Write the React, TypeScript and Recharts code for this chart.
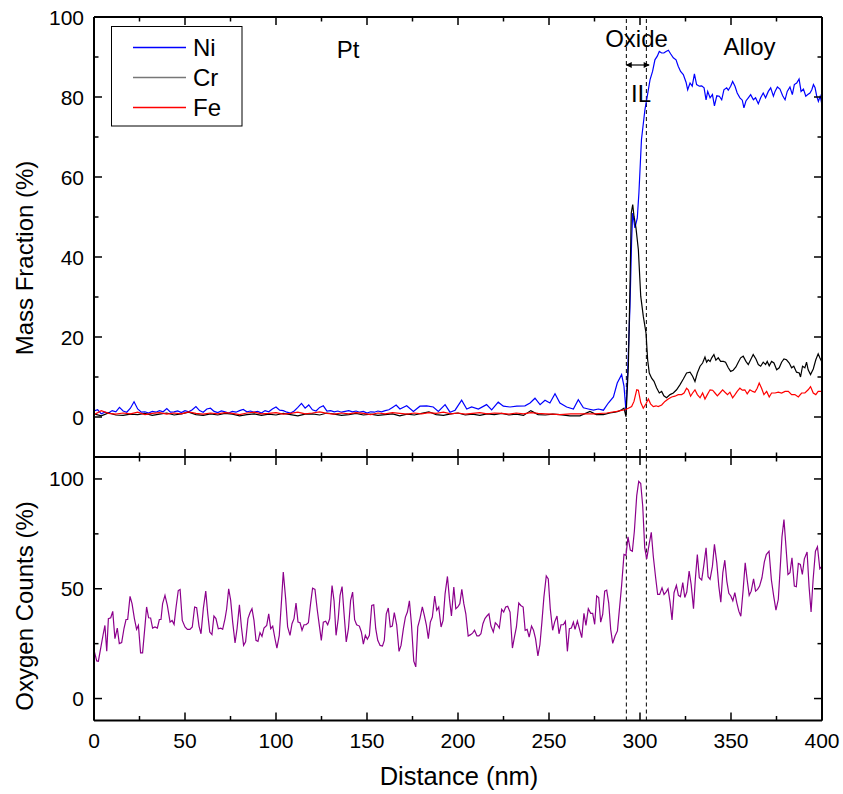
import React from 'react';
import { LineChart, Line, XAxis, YAxis, ReferenceLine } from 'recharts';

// ---------- ticks & annotations ----------
const DISTANCE_TICKS = [0, 25, 50, 75, 100, 125, 150, 175, 200, 225, 250, 275, 300, 325, 350, 375, 400];
const MASS_TICKS = [0, 10, 20, 30, 40, 50, 60, 70, 80, 90, 100];
const OXYGEN_TICKS = [0, 25, 50, 75, 100];
const BOUNDARIES = [292.5, 303.5];
const IL_ARROW: [number, number, number] = [292.5, 305, 88]; // from, to, at mass fraction
const SERIES_NAMES = ['Ni', 'Cr', 'Fe'];
const SERIES_COLORS = ['#0000ff', '#000000', '#ff0000'];
const LEGEND_COLORS = ['#0000ff', '#777777', '#ff0000'];
const OXYGEN_COLOR = '#8c008c';

// ---------- data: [distance (nm), value (%)] ----------
const NI_PROFILE: [number, number][] = [
  [0,1.5],[2,1.8],[4,0.8],[6,1.2],[8,1.0],[10,1.6],[12,1.3],[14,2.4],[16,1.5],[18,1.2],[20,2.2],[22,3.8],[24,2.0],[26,1.2],[28,1.3],[30,1.0],[32,1.4],[34,1.2],[36,1.6],[38,1.3],[40,2.1],[42,1.2],[44,1.3],[46,1.5],[48,1.1],[50,1.6],[52,1.3],[54,1.8],[56,2.6],[58,1.6],[60,1.2],[62,2.0],[64,2.2],[66,1.4],[68,1.1],[70,1.5],[72,1.3],[74,1.0],[76,1.4],[78,1.2],[80,1.6],[82,1.9],[84,1.3],[86,1.5],[88,1.2],[90,1.4],[92,1.0],[94,1.6],[96,1.3],[98,2.0],[100,2.5],[102,1.7],[104,1.6],[106,1.2],[108,1.0],[110,1.5],[112,2.4],[114,3.4],[116,2.2],[118,3.0],[120,1.8],[122,1.5],[124,2.4],[126,2.8],[128,1.5],[130,1.6],[132,1.3],[134,1.5],[136,1.2],[138,1.4],[140,1.6],[142,1.3],[144,1.5],[146,1.2],[148,1.4],[150,1.0],[152,1.3],[154,1.2],[156,1.5],[158,1.3],[160,1.6],[162,1.8],[164,2.4],[166,3.0],
  [168.1,2.0],[171.8,2.8],[175.5,1.4],[179.1,2.7],[182.8,2.8],[186.4,2.5],[189.2,1.4],[192.9,3.1],[195.6,1.2],[198.4,1.7],[202.0,4.2],[204.8,2.0],[207.5,2.5],[211.2,2.0],[215.7,3.1],[218.5,1.8],[222.1,3.7],[224.9,2.7],[228.6,2.5],[232.3,2.7],[236.8,2.8],[239.6,3.5],[242.3,4.7],[245.1,3.1],[247.8,4.2],[250.5,3.5],[253.3,5.8],[256.0,3.5],[259.7,2.5],[263.4,2.0],[266.1,4.3],[268.9,2.3],[271.6,2.0],[274.4,1.7],[277.1,2.0],[279.9,1.7],[282.6,3.5],[285.4,5.0],[287.5,8.5],[289.9,10.6],[291.2,7.7],[292.3,1.5],
  [293.2,11],[294.5,27.7],[295.4,44.3],[296.0,51],[297.2,47.3],[298.5,49.7],[299.4,56],[300.8,69.3],[302.7,76.8],[304.0,80.2],[305.5,84.3],[306.9,86.4],[308.2,89.3],[309.5,90.2],[310.6,91.4],[311.9,91],[313.1,91],[314.3,91.4],[315.6,91.7],[316.8,90.8],[318.3,89.8],[319.8,89.3],[321.0,87.7],[322.3,86.4],[323.8,85.6],[325.3,83.7],[326.2,81.8],[327.5,83.5],[328.7,82.7],[329.9,85.8],[331.1,83.1],[332.6,82.7],[333.9,82.8],[335.2,82.3],[336.3,79.3],[337.2,81.4],[338.5,79.8],[339.8,80.6],[340.9,77.8],[342.2,80.3],[343.6,80.2],[344.9,79.3],[346.1,81.8],[347.6,82.3],[348.5,81.7],[349.8,82.7],[350.9,83.9],[352.2,82.7],[353.4,81],[354.9,79.8],[356.2,79.2],[357.1,77.3],[358.2,79],[359.5,79.8],[360.8,80.6],[362.3,79.3],[363.5,79.8],[365.0,78.3],[366.3,79.8],[367.7,81],[369.0,79.8],[370.5,81.4],[371.8,82.3],[373.3,80.2],[374.2,81.4],[375.5,82.5],[376.9,82],[378.4,80.3],[379.7,79.3],[380.9,81.4],[382.4,82.5],[383.7,80.6],[384.8,83.1],[386.1,83.5],[387.4,84.5],[388.5,81.4],[389.8,82],[391.1,80.2],[392.2,80.6],[393.4,81],[394.4,81.8],[395.3,83.1],[396.2,82.3],[397.1,80.2],[398.0,78.9],[399.0,80.2],[400,78]
];

const CR_PROFILE: [number, number][] = [
  [0,0.8],[4,0.3],[8,1.0],[12,0.5],[16,0.4],[20,0.7],[24,0.6],[28,0.9],[32,0.4],[36,0.7],[40,1.0],[44,0.5],[48,0.8],[52,1.2],[56,0.6],[60,0.4],[64,0.8],[68,0.5],[72,0.9],[76,0.7],[80,0.3],[84,0.6],[88,0.8],[92,0.4],[96,0.7],[100,0.5],[104,0.9],[108,0.6],[112,0.3],[116,0.7],[120,0.8],[124,0.5],[128,1.0],[132,0.7],[136,0.4],[140,0.6],[144,0.9],[148,0.5],[152,0.7],[156,0.4],[160,0.6],[164,0.8],[168,0.3],[172,0.7],[176,0.5],[180,0.9],[184,1.3],[188,0.6],[192,0.4],[196,0.8],[200,1.0],[204,0.5],[208,0.7],[212,0.4],[216,0.8],[220,0.6],[224,0.9],[228,0.5],[232,0.7],[236,0.4],[240,1.6],[244,0.6],[248,0.5],[252,0.7],
  [256,0.6],[261.5,0.3],[267,0.3],[272.5,1.4],[276,0.6],[279.9,0.6],[283.5,1.0],[286.3,1.2],[288.1,1.4],[289.9,1.8],[291.2,2.2],[292.3,0.1],[293.6,12.7],[294.5,32.6],[295.2,51],[296.0,53.1],[296.7,50.2],[297.8,47.2],[299.1,41.8],[300.4,30.2],[301.8,25.2],[303.3,21],[304.2,14.3],[305.1,11],[306.4,9.7],[307.7,8.9],[309.1,7.3],[310.6,6],[311.9,6.4],[313.1,5.3],[314.6,4.8],[316.5,5.6],[318.3,6],[320.1,6.8],[322.0,8.1],[323.8,9.5],[325.6,11],[327.5,11.2],[328.9,10.2],[330.2,8.9],[331.5,11],[333.0,12.7],[334.4,13.5],[335.7,15],[336.6,13.7],[337.5,14.3],[338.5,13.9],[339.4,14.8],[340.6,15.6],[341.7,14.2],[343.0,14.8],[344.3,13.9],[345.8,13.9],[347.0,13.7],[348.5,12.3],[349.8,11.4],[351.2,11.7],[352.7,12.5],[354.0,13.7],[355.3,14.8],[356.7,15.2],[358.2,13.9],[359.5,13.1],[360.8,14.3],[362.2,15.6],[363.7,14.5],[365.0,13.1],[366.3,12.7],[367.7,13.7],[369.0,13.1],[369.9,13.9],[371.0,12.8],[372.3,13.9],[373.6,13.5],[375.1,11.8],[376.5,12.3],[377.8,13.7],[379.1,14.5],[380.5,14.3],[382.0,13.5],[383.3,12.3],[384.5,12.7],[386.0,11.2],[387.5,11],[388.2,10],[389.3,12.7],[390.6,12.3],[391.5,13.7],[392.4,11.8],[393.7,10.6],[395.2,12],[396.6,14.3],[397.9,15.8],[398.8,14.8],[400,13.7]
];

const FE_PROFILE: [number, number][] = [
  [0,0.6],[4,1.6],[8,0.9],[12,0.7],[16,1.0],[20,0.8],[24,1.2],[28,0.6],[32,0.9],[36,1.1],[40,0.7],[44,1.0],[48,0.8],[52,1.3],[56,0.9],[60,0.7],[64,1.0],[68,0.8],[72,1.1],[76,0.9],[80,0.6],[84,1.0],[88,1.2],[92,0.8],[96,0.9],[100,1.1],[104,0.7],[108,0.9],[112,1.2],[116,0.8],[120,1.0],[124,1.3],[128,0.9],[132,0.7],[136,1.0],[140,0.8],[144,1.1],[148,0.9],[152,0.6],[156,1.0],[160,0.8],[164,1.1],[168,0.9],[172,0.7],[176,1.0],[180,0.8],[184,1.1],[188,0.9],[192,1.2],[196,0.8],[200,1.0],[204,0.7],[208,0.9],[212,1.1],[216,0.8],[220,1.0],[224,0.9],[228,0.7],[232,1.0],[236,0.8],[240,1.1],[244,0.9],[248,0.8],[252,0.7],
  [256,0.6],[262,0.8],[268,0.8],[275,0.8],[281.7,1.0],[287.2,1.4],[291.8,1.8],[293.6,2.2],[295.4,2.6],[296.7,3.9],[298.2,6.8],[299.1,6.7],[300.4,3.6],[301.8,2.2],[303.3,3.3],[304.6,4.5],[305.8,3.3],[307.3,2.6],[308.8,2.8],[310.0,2.6],[311.9,3],[313.7,3.9],[315.5,4.5],[317.4,5],[319.2,5.2],[321.0,5.6],[322.9,5.6],[324.2,6],[325.6,7.2],[326.5,6.8],[327.8,5.2],[328.9,6],[330.2,6.8],[331.5,5.6],[333.0,4.8],[334.4,6],[335.7,4.5],[337.0,5.6],[338.5,6.8],[339.9,6.7],[341.2,6],[342.5,5.3],[343.9,6],[345.4,6.8],[346.7,6.2],[348.1,5.6],[349.4,6.2],[350.9,4.8],[352.2,5.6],[353.4,6.4],[354.9,7.2],[356.2,6.7],[357.6,6.8],[358.9,5.8],[360.4,6.8],[361.9,6.4],[363.1,6.2],[364.4,7.2],[365.5,8.5],[366.8,7.2],[368.1,5.6],[369.6,6.4],[371.0,5],[372.3,6],[374.2,6],[376.0,6.2],[377.8,6],[379.7,6.4],[381.5,6.4],[383.3,5.6],[385.1,5.6],[387.0,5],[388.8,6],[390.6,6],[392.4,6.8],[393.7,7.6],[395.2,6],[396.6,5.6],[397.9,6.4],[400,6.4]
];

const OXYGEN_PROFILE: [number, number][] = [
  [0,22],[1.5,17.1],[2.4,17],[5.1,29.5],[6.0,33.3],[7.0,21.5],[7.9,36.4],[9.2,36.8],[10.3,39.7],[11.5,27.3],[12.8,32.1],[13.9,25],[15.2,25.5],[16.5,32],[17.6,36],[18.5,36],[19.8,46.5],[20.9,43.2],[22.2,36.4],[23.4,31.5],[24.4,33.3],[25.6,20.8],[26.7,20.8],[28.0,33],[28.9,41.7],[30.0,36.8],[31.1,36.7],[32.2,32.1],[33.5,32.6],[34.8,32.1],[35.9,36],[36.8,36],[37.7,43.2],[39.0,47],[40.3,42.4],[41.8,34.8],[42.9,35.6],[44.0,33.8],[45.1,41.7],[46.3,49.2],[47.3,49.7],[48.5,35.6],[50.0,32.6],[51.3,31.5],[52.7,31.5],[54.0,32.6],[55.3,41.7],[56.4,41.4],[57.7,33],[58.8,29.5],[60.1,41.2],[61.4,48.9],[62.5,38.6],[63.6,30.3],[64.8,29.1],[65.9,37.6],[67.0,36.4],[68.3,31.8],[69.6,32.1],[70.7,31.5],[72.0,36.4],[72.9,40.9],[74.0,50],[75.1,44.7],[76.2,34.8],[77.5,25.3],[78.6,31.8],[79.9,42.7],[81.0,32.6],[82.2,24.2],[83.3,25.8],[84.6,36.4],[85.7,39.1],[86.8,40.9],[87.9,35.6],[89.0,26.5],[90.1,26],[91.2,30],[92.3,28.3],[93.4,32.1],[94.9,33.3],[96.0,38.6],[97.1,31.8],[98.2,33],[99.5,27],[100.5,23],[101.8,28.8],[103.1,45.5],[104.0,57.6],[105.3,45.5],[106.4,32.6],[107.7,28.8],[108.8,34.1],[109.9,36.4],[111.0,43.5],[112.1,34.8],[113.2,34.5],[114.3,31.1],[115.4,33.6],[116.5,33.6],[117.8,34.5],[119.0,43.2],[120.1,50.3],[121.4,49.7],[122.7,40.2],[123.8,33.3],[124.9,26.5],[126.0,34.8],[127.3,35.2],[128.4,33.6],[129.5,36.4],[130.8,51.5],[131.9,44.5],[133.0,28.8],[134.2,36.4],[135.2,47],[136.3,51],[137.4,38.6],[138.6,25.8],[139.8,31.8],[141.0,44.7],[142.1,48.5],[143.2,35.9],[144.3,33.6],[145.8,33],[146.9,30.3],[148.0,24.8],[149.1,28.8],[150.2,27],[151.3,28.8],[152.6,42.4],[153.7,42.7],[154.8,31.8],[155.9,26.5],[157.2,24.2],[158.5,23.9],[159.5,26.5],[160.6,38.6],[161.7,41.2],[162.8,32.6],[163.9,33],[165.0,39.1],[166.3,33.6],[167.6,21.5],[168.7,24.2],[170.0,31.8],[171.1,37.1],[172.2,39.4],[173.3,44.5],[174.4,34.1],[175.7,17],[176.8,14.4],[177.9,32.6],[179.1,36.4],[180.4,41.7],[181.5,37.9],[182.6,33.6],[183.7,27.3],[184.8,34.8],[185.9,37.1],[187.2,46.7],[188.3,40.2],[189.4,41.7],[190.7,32.6],[191.8,35.6],[192.9,47.7],[194.2,55.6],[195.3,45.5],[196.4,37.6],[197.7,50.8],[198.8,40.9],[199.9,41.7],[201.0,43.2],[202.1,49.7],[203.2,43.2],[204.3,38.6],[205.6,28.5],[206.9,29.1],[208.0,29.8],[209.1,31.1],[210.4,28.5],[211.5,28.5],[212.6,29.5],[213.7,34.1],[214.8,36.4],[215.9,37.6],[217.0,38.6],[218.1,33],[219.4,30.3],[220.5,34.5],[221.6,33.6],[222.7,32.1],[224.0,40.6],[225.1,39.4],[226.2,41.7],[227.3,42],[228.6,39.4],[229.9,23],[231.0,28],[232.1,32.6],[233.4,43.5],[234.5,42.4],[235.8,41.7],[236.9,31.1],[238.0,31.5],[239.1,28],[240.4,33],[241.5,31.1],[242.6,27.3],[243.9,19.4],[245.0,24.5],[246.1,34.8],[247.2,46.2],[248.5,55.8],[249.6,54.5],[250.7,40.9],[252.0,31.1],[253.1,34.8],[254.4,37.6],[255.5,29.5],[256.6,33.6],[257.9,33.6],[259.0,35.2],[260.1,21.5],[261.2,31.8],[262.3,32.1],[263.4,34.8],[264.3,31.5],[265.6,35.3],[268.0,27.7],[269.2,38.8],[270.3,33.3],[271.6,40.9],[272.9,38.8],[274.0,38.8],[275.1,33.8],[276.2,46.7],[277.3,46],[278.4,34.8],[279.5,38.3],[280.6,48.9],[281.7,49.4],[282.8,43.6],[283.9,31.5],[285.0,25.1],[286.3,28.5],[287.6,30.8],[288.6,39.8],[289.9,51.5],[291.2,65.6],[292.3,65.2],[293.4,73.6],[294.7,67.6],[295.8,67.1],[296.9,76.2],[298.2,92.4],[299.3,98.9],[300.4,97.9],[301.5,87.6],[302.6,68.6],[303.7,63.6],[305.0,70.2],[306.2,75.7],[307.3,64.8],[308.6,55],[309.7,47.4],[310.8,47.4],[312.1,50.4],[313.2,47.4],[314.3,48.5],[315.4,50],[316.5,43.9],[317.6,35.8],[318.7,48.2],[320.0,51.5],[321.1,47],[322.2,46.4],[323.5,52.8],[324.6,46],[325.7,48.5],[327.0,58],[328.1,52],[329.4,40.9],[330.4,54.3],[331.5,65.6],[332.6,55],[333.9,54],[335.0,60.3],[336.3,68.6],[337.4,55.5],[338.5,54.3],[339.8,60.3],[340.9,70.2],[342.2,61.8],[343.3,51.2],[344.4,43.9],[345.5,57.3],[346.6,63],[347.7,53.5],[348.8,47.9],[349.9,46.7],[351.0,44.5],[352.1,48.2],[353.2,43.6],[354.3,39.8],[355.4,37.5],[356.7,49.7],[357.8,61.8],[358.9,54],[360.0,47],[361.1,48.9],[362.4,54.5],[363.5,48.9],[364.6,49.7],[365.7,51.2],[367.0,55],[368.3,62.1],[369.4,65.6],[370.9,67.1],[372.2,54],[373.5,46.4],[374.7,40.3],[376.0,45.2],[377.1,60.3],[378.0,73.6],[379.1,81.5],[380.2,69.1],[381.3,56.5],[382.4,57.3],[383.5,64.1],[384.8,51.2],[385.9,50.9],[387.0,61.5],[388.1,61.1],[389.2,56.5],[390.3,63.6],[391.8,66.7],[392.9,50.9],[394.0,39.4],[395.1,54],[396.4,67.1],[397.5,69.1],[398.8,59.1],[400,60.3]
];

const toRows = (pts: [number, number][]) => pts.map(([d, v]) => ({ d, v }));
const niData = toRows(NI_PROFILE);
const crData = toRows(CR_PROFILE);
const feData = toRows(FE_PROFILE);
const oxygenData = toRows(OXYGEN_PROFILE);

const FONT = '"Liberation Sans", Arial, Helvetica, sans-serif';
const AXIS_LINE = { stroke: '#000', strokeWidth: 2 };

const xTick = (dir: number, withLabel: boolean) => (props: any) => {
  const { x, y, payload } = props;
  const v = payload.value;
  const major = v % 50 === 0;
  const len = major ? 8 : 4.5;
  return (
    <g>
      <line x1={x} y1={y} x2={x} y2={y + dir * len} stroke="#000" strokeWidth={1.5} />
      {withLabel && major ? (
        <text x={x} y={y + 27} textAnchor="middle" fontSize={21} fontFamily={FONT} fill="#000">{v}</text>
      ) : null}
    </g>
  );
};

const yTick = (dir: number, labelStep: number, majorStep: number) => (props: any) => {
  const { x, y, payload } = props;
  const v = payload.value;
  const major = v % majorStep === 0;
  const len = major ? 8 : 4.5;
  return (
    <g>
      <line x1={x} y1={y} x2={x + dir * len} y2={y} stroke="#000" strokeWidth={1.5} />
      {labelStep > 0 && v % labelStep === 0 ? (
        <text x={x - 10} y={y + 7.5} textAnchor="end" fontSize={21} fontFamily={FONT} fill="#000">{v}</text>
      ) : null}
    </g>
  );
};

const axisCommon = {
  dataKey: 'd',
  type: 'number' as const,
  domain: [0, 400],
  ticks: DISTANCE_TICKS,
  interval: 0 as const,
  tickSize: 0,
  tickMargin: 0,
  tickLine: false,
  axisLine: AXIS_LINE,
  allowDataOverflow: true,
};

// axes take 1px each from the margins, so margins are reduced by 1
export default function App() {
  return (
    <div style={{ position: 'absolute', left: 0, top: 0, width: 843, height: 794, background: '#fff', fontFamily: FONT }}>
      {/* Top panel: mass fraction */}
      <div style={{ position: 'absolute', left: 0, top: 0 }}>
        <LineChart width={843} height={470} margin={{ top: 16, right: 20, bottom: 12, left: 93 }}>
          <defs>
            <marker id="ilArrow" viewBox="0 0 10 10" refX="9" refY="5" markerWidth="7" markerHeight="6" markerUnits="userSpaceOnUse" orient="auto-start-reverse">
              <path d="M0,0 L10,5 L0,10 z" fill="#000" />
            </marker>
          </defs>
          <XAxis {...axisCommon} height={1} tick={xTick(-1, false)} />
          <XAxis {...axisCommon} xAxisId="top" orientation="top" height={1} tick={xTick(1, false)} />
          <YAxis type="number" domain={[-10, 100]} ticks={MASS_TICKS} interval={0} width={1} tickSize={0} tickMargin={0} tickLine={false} axisLine={AXIS_LINE} tick={yTick(1, 20, 20)} allowDataOverflow />
          <YAxis yAxisId="r" orientation="right" type="number" domain={[-10, 100]} ticks={MASS_TICKS} interval={0} width={1} tickSize={0} tickMargin={0} tickLine={false} axisLine={AXIS_LINE} tick={yTick(-1, 0, 20)} allowDataOverflow />
          {BOUNDARIES.map((b) => (
            <ReferenceLine key={`b${b}`} x={b} stroke="#000" strokeWidth={1} strokeDasharray="4 3" />
          ))}
          <ReferenceLine
            segment={[{ x: IL_ARROW[0], y: IL_ARROW[2] }, { x: IL_ARROW[1], y: IL_ARROW[2] }]}
            stroke="#000"
            strokeWidth={1.2}
            markerStart="url(#ilArrow)"
            markerEnd="url(#ilArrow)"
          />
          <Line data={niData} dataKey="v" name={SERIES_NAMES[0]} stroke={SERIES_COLORS[0]} strokeWidth={1.2} dot={false} isAnimationActive={false} />
          <Line data={crData} dataKey="v" name={SERIES_NAMES[1]} stroke={SERIES_COLORS[1]} strokeWidth={1.2} dot={false} isAnimationActive={false} />
          <Line data={feData} dataKey="v" name={SERIES_NAMES[2]} stroke={SERIES_COLORS[2]} strokeWidth={1.2} dot={false} isAnimationActive={false} />
        </LineChart>
      </div>

      {/* Bottom panel: oxygen counts */}
      <div style={{ position: 'absolute', left: 0, top: 440 }}>
        <LineChart width={843} height={354} margin={{ top: 16, right: 20, bottom: 72.5, left: 93 }}>
          <XAxis {...axisCommon} height={1} tick={xTick(-1, true)} />
          <XAxis {...axisCommon} xAxisId="top" orientation="top" height={1} tick={xTick(1, false)} />
          <YAxis type="number" domain={[-10, 110]} ticks={OXYGEN_TICKS} interval={0} width={1} tickSize={0} tickMargin={0} tickLine={false} axisLine={AXIS_LINE} tick={yTick(1, 50, 50)} allowDataOverflow />
          <YAxis yAxisId="r" orientation="right" type="number" domain={[-10, 110]} ticks={OXYGEN_TICKS} interval={0} width={1} tickSize={0} tickMargin={0} tickLine={false} axisLine={AXIS_LINE} tick={yTick(-1, 0, 50)} allowDataOverflow />
          {BOUNDARIES.map((b) => (
            <ReferenceLine key={`o${b}`} x={b} stroke="#000" strokeWidth={1} strokeDasharray="4 3" />
          ))}
          <Line data={oxygenData} dataKey="v" name="O" stroke={OXYGEN_COLOR} strokeWidth={1.2} dot={false} isAnimationActive={false} />
        </LineChart>
      </div>

      {/* Titles, annotations and legend */}
      <svg width={843} height={794} style={{ position: 'absolute', left: 0, top: 0, pointerEvents: 'none' }} fontFamily={FONT}>
        <text x={33} y={258} transform="rotate(-90 33 258)" textAnchor="middle" fontSize={24} fill="#000">Mass Fraction (%)</text>
        <text x={33} y={606} transform="rotate(-90 33 606)" textAnchor="middle" fontSize={24} fill="#000">Oxygen Counts (%)</text>
        <text x={459} y={785} textAnchor="middle" fontSize={25.5} fill="#000">Distance (nm)</text>
        <text x={348} y={58} textAnchor="middle" fontSize={24} fill="#000">Pt</text>
        <text x={636.5} y={46.5} textAnchor="middle" fontSize={24} fill="#000">Oxide</text>
        <text x={749.5} y={54.5} textAnchor="middle" fontSize={24} fill="#000">Alloy</text>
        <text x={641} y={101.5} textAnchor="middle" fontSize={24} fill="#000">IL</text>
        <g>
          <rect x={111.5} y={26.5} width={130.5} height={99.5} fill="#fff" stroke="#000" strokeWidth={1} />
          {SERIES_NAMES.map((n, i) => (
            <g key={n}>
              <line x1={133} x2={186} y1={47.5 + i * 30} y2={47.5 + i * 30} stroke={LEGEND_COLORS[i]} strokeWidth={i === 1 ? 1.6 : 1.3} />
              <text x={193} y={47.5 + i * 30 + 8.5} fontSize={24} fill="#000">{n}</text>
            </g>
          ))}
        </g>
      </svg>
    </div>
  );
}
